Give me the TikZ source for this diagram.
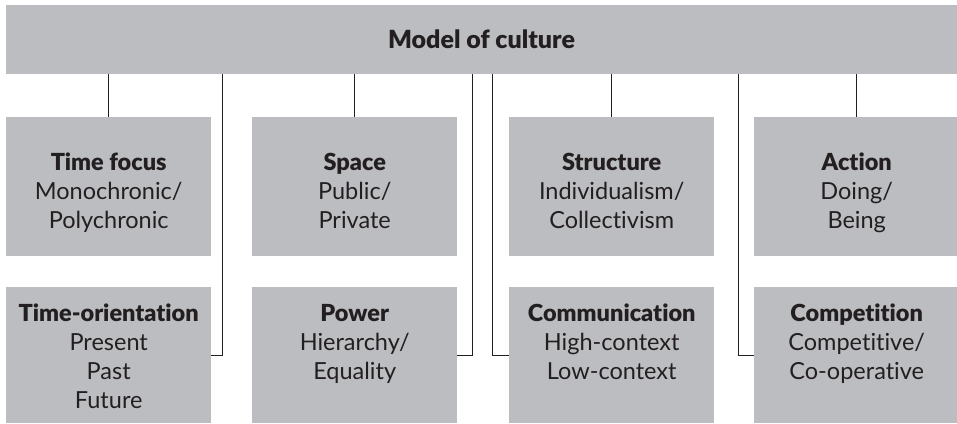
\documentclass[tikz,border=0pt]{standalone}
\usepackage{fontspec}
\setmainfont[Ligatures=NoCommon,BoldFont={Lato Black}]{Lato}
\definecolor{boxgrey}{RGB}{188,189,192}
\definecolor{ink}{RGB}{35,31,32}
\begin{document}
\begin{tikzpicture}[x=1pt,y=-1pt,
  box/.style={fill=boxgrey,draw=none,inner sep=0pt,minimum width=205pt,anchor=north west},
  row1/.style={box,minimum height=139pt},
  row2/.style={box,minimum height=136pt},
  lbl/.style={anchor=north,align=center,inner sep=0pt,text=ink,font=\fontsize{23.5}{29}\selectfont},
  conn/.style={draw=ink,line width=1pt}]
\useasboundingbox (0,0) rectangle (957,423);
\fill[white] (0,0) rectangle (957,423);
\node[box,minimum width=951pt,minimum height=69pt] (top) at (6,5) {};
\node[anchor=base,text=ink,font=\fontsize{25}{29}\selectfont\bfseries] (title) at (481.5,48) {Model of culture};
% row 1
\node[row1] (b1) at (6,117) {};
\node[row1] (b2) at (252,117) {};
\node[row1] (b3) at (509,117) {};
\node[row1] (b4) at (754,117) {};
% row 2
\node[row2] (b5) at (6,287) {};
\node[row2] (b6) at (252,287) {};
\node[row2] (b7) at (509,287) {};
\node[row2] (b8) at (754,287) {};
% labels
\node[lbl] (t1) at ([yshift=-32.7pt]b1.north) {\strut\textbf{Time focus}\\Monochronic/\\Polychronic};
\node[lbl] (t2) at ([yshift=-32.7pt]b2.north) {\strut\textbf{Space}\\Public/\\Private};
\node[lbl] (t3) at ([yshift=-32.7pt]b3.north) {\strut\textbf{Structure}\\Individualism/\\Collectivism};
\node[lbl] (t4) at ([yshift=-32.7pt]b4.north) {\strut\textbf{Action}\\Doing/\\Being};
\node[lbl] (t5) at ([yshift=-13.7pt]b5.north) {\strut\textbf{Time-orientation}\\Present\\Past\\Future};
\node[lbl] (t6) at ([yshift=-13.7pt]b6.north) {\strut\textbf{Power}\\Hierarchy/\\Equality};
\node[lbl] (t7) at ([yshift=-13.7pt]b7.north) {\strut\textbf{Communication}\\High-context\\Low-context};
\node[lbl] (t8) at ([yshift=-13.7pt]b8.north) {\strut\textbf{Competition}\\Competitive/\\Co-operative};
% connectors
\coordinate (j5) at (222,355);
\coordinate (j6) at (472,355);
\coordinate (j7) at (492,355);
\coordinate (j8) at (738,355);
\draw[conn] (top.south -| b1.north) -- (b1.north);
\draw[conn] (top.south -| b2.north) -- (b2.north);
\draw[conn] (top.south -| b3.north) -- (b3.north);
\draw[conn] (top.south -| b4.north) -- (b4.north);
\draw[conn] (top.south -| j5) |- (b5.east);
\draw[conn] (top.south -| j6) |- (b6.east);
\draw[conn] (top.south -| j7) |- (b7.west);
\draw[conn] (top.south -| j8) |- (b8.west);
\end{tikzpicture}
\end{document}
